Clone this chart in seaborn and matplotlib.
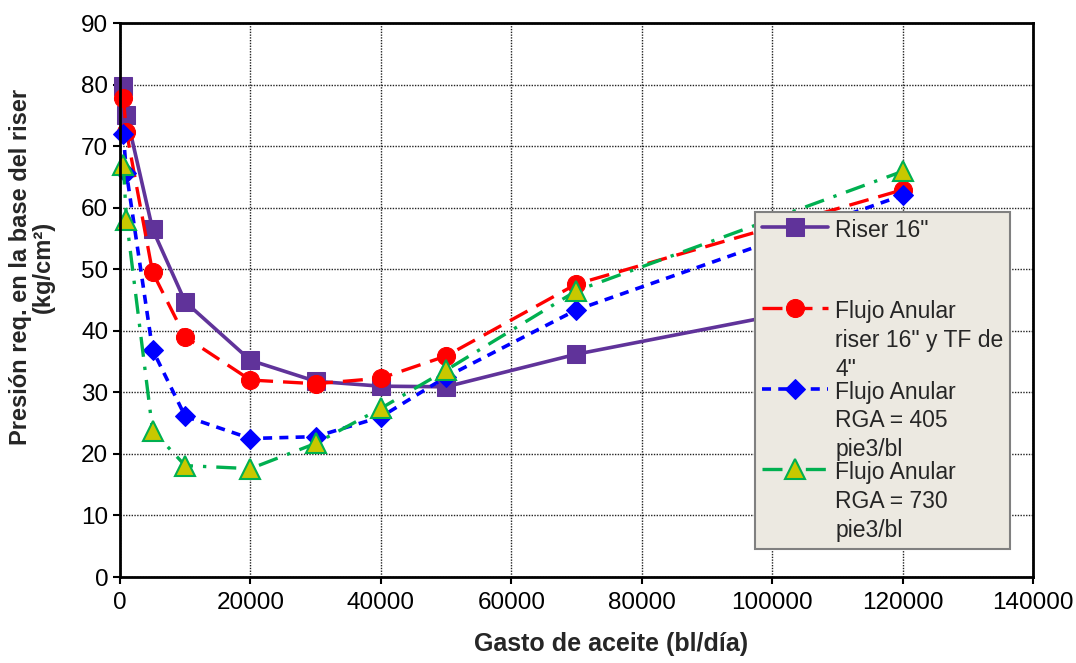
import pandas as pd
import numpy as np
import seaborn as sns
import matplotlib.pyplot as plt

# Datos
gasto = [500, 1000, 5000, 10000, 20000, 30000, 40000, 50000, 70000, 120000]
riser_16 = [79.8, 75.0, 56.5, 44.7, 35.2, 31.8, 31.0, 30.9, 36.2, 46.5]
anular_tf4 = [77.8, 72.3, 49.5, 39.0, 32.0, 31.4, 32.3, 35.9, 47.6, 62.9]
anular_405 = [72.0, 65.6, 36.9, 26.1, 22.5, 22.8, 26.0, 32.5, 43.4, 62.0]
anular_730 = [67.0, 58.0, 23.8, 18.1, 17.6, 21.7, 27.4, 33.6, 46.5, 65.9]

etiquetas = ['Riser 16"\n \n ',
             'Flujo Anular\nriser 16" y TF de\n4"',
             'Flujo Anular\nRGA = 405\npie3/bl',
             'Flujo Anular\nRGA = 730\npie3/bl']
yticks = list(range(0, 91, 10))
xticks = list(range(0, 140001, 20000))

sns.set_style("white")
plt.rcParams['font.family'] = ['Liberation Sans', 'DejaVu Sans']

fig = plt.figure(figsize=(10.76, 6.63), dpi=100)
ax = fig.add_axes([0.1115, 0.1297, 0.8485, 0.8356])

series = [
    (riser_16, dict(color='#60339A', marker='s', markersize=13, markerfacecolor='#60339A',
                    markeredgecolor='#60339A', linestyle='-', linewidth=2.6)),
    (anular_tf4, dict(color='#FF0000', marker='o', markersize=13, markerfacecolor='#FF0000',
                      markeredgecolor='#FF0000', linestyle=(0, (6, 3)), linewidth=2.4)),
    (anular_405, dict(color='#0000FF', marker='D', markersize=10, markerfacecolor='#0000FF',
                      markeredgecolor='#0000FF', linestyle=(0, (2.5, 2)), linewidth=2.6)),
    (anular_730, dict(color='#00B050', marker='^', markersize=14, markerfacecolor='#C8C800',
                      markeredgecolor='#00B050', markeredgewidth=1.5,
                      linestyle=(0, (6, 3, 1, 3)), linewidth=2.4)),
]

for valores, estilo in series:
    sns.lineplot(x=gasto, y=valores, ax=ax, sort=False, clip_on=False, **estilo)

ax.set_xlim(0, 140000)
ax.set_ylim(0, 90)
ax.set_xticks(xticks)
ax.set_yticks(yticks)
ax.set_xticklabels([str(t) for t in xticks])
ax.tick_params(axis='both', labelsize=17.5, direction='out', length=5, width=1.5,
               colors='black', left=True, bottom=True)
ax.tick_params(axis='x', pad=6)
ax.grid(True, color='#222222', linestyle=(0, (1, 1)), linewidth=1)

for lado in ax.spines.values():
    lado.set_color('black')
    lado.set_linewidth(2)

ax.set_xlabel('Gasto de aceite (bl/día)', fontsize=18, fontweight='bold')
ax.xaxis.set_label_coords(0.538, -0.1)
ax.set_ylabel('Presión req. en la base del riser\n(kg/cm²)', fontsize=17,
              fontweight='bold', linespacing=1.0)
ax.yaxis.set_label_coords(-0.071, 0.56)

leg = ax.legend(ax.get_lines(), etiquetas, loc='upper left',
                bbox_to_anchor=(0.6955, 0.659), fontsize=16.5, frameon=True,
                fancybox=False, facecolor='#ECE9E1', edgecolor='#808080',
                framealpha=1, labelspacing=0.0, handlelength=2.9,
                handletextpad=0.3, borderpad=0.3, borderaxespad=0)
leg.get_frame().set_linewidth(1.5)
for texto in leg.get_texts():
    texto.set_linespacing(1.33)
for col in leg._legend_handle_box.get_children():
    for fila in col.get_children():
        fila.align = "top"

plt.savefig('out.png', dpi=100)
